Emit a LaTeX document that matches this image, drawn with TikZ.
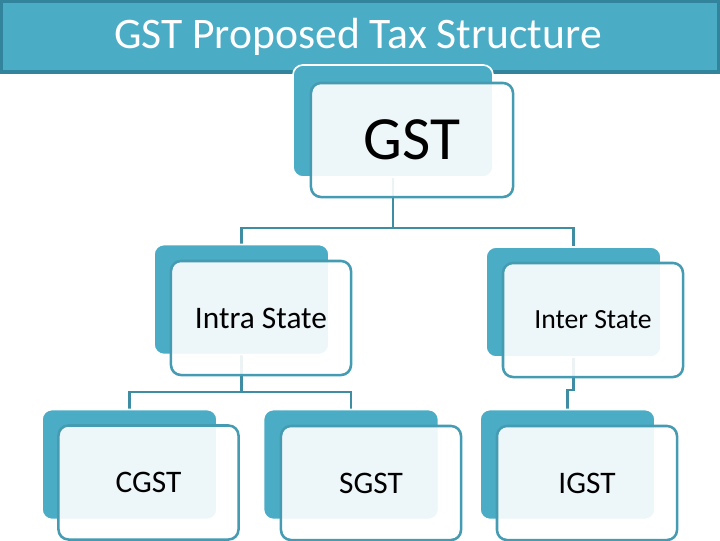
\documentclass[tikz,border=0pt]{standalone}
\usepackage{fontspec}
\setmainfont{Carlito}
\usepackage{xcolor}
\usetikzlibrary{positioning,calc,backgrounds}
\definecolor{gsttint}{HTML}{4BACC6}
\definecolor{gstedge}{HTML}{31849B}
\definecolor{gstline}{HTML}{3F8DA3}

\begin{document}
\begin{tikzpicture}[x=0.025cm,y=-0.025cm,
  backbox/.style={draw=white,line width=1.2pt,fill=gsttint,rounded corners=0.25cm,
    minimum width=4.375cm,minimum height=2.75cm,inner sep=0pt},
  frontbox/.style={draw=gsttint!90!black,line width=1.8pt,fill=white,fill opacity=0.9,text opacity=1,
    rounded corners=0.25cm,minimum width=4.5cm,minimum height=2.85cm,inner sep=0pt,
    font=\fontsize{22.3}{26}\selectfont},
  link/.style={draw=gstline,line width=2pt}]
  \useasboundingbox (0,0) rectangle (720,540);
  \draw[fill=gsttint,draw=gstedge,line width=2.4pt] (1,1) rectangle (719,72);
  \node[text=white,font=\fontsize{31}{36}\selectfont] (title) at (358,37) {GST Proposed Tax Structure};

  \node[backbox,minimum width=5cm,minimum height=2.8cm] (gstb) at (393,121) {};
  \node[frontbox,minimum width=5.05cm,minimum height=2.85cm,font=\fontsize{43.7}{50}\selectfont] (gst) at (412,140) {GST};

  \node[backbox] (intrab) at (241.5,299.5) {};
  \node[frontbox] (intra) at (261,318) {Intra State};
  \node[backbox] (interb) at (573.5,302) {};
  \node[frontbox,font=\fontsize{19.7}{24}\selectfont] (inter) at (593,320) {Inter State};

  \node[backbox] (cgstb) at (129.5,464.5) {};
  \node[frontbox] (cgst) at (148.5,482.5) {CGST};
  \node[backbox] (sgstb) at (351,464.5) {};
  \node[frontbox] (sgst) at (371,483) {SGST};
  \node[backbox] (igstb) at (567.5,464.5) {};
  \node[frontbox] (igst) at (587,483) {IGST};

  \coordinate (bus1) at (0,228);
  \coordinate (bus2) at (0,392);
  \coordinate (bus3) at (0,390);
  \begin{scope}[on background layer]
    \draw[link] (gstb.south) -- (gstb.south |- bus1) -| (intrab.north);
    \draw[link] (gstb.south |- bus1) -| (interb.north);
    \draw[link] (intrab.south) -- (intrab.south |- bus2) -| (cgstb.north);
    \draw[link] (intrab.south |- bus2) -| (sgstb.north);
    \draw[link] (interb.south) -- (interb.south |- bus3) -| (igstb.north);
  \end{scope}
\end{tikzpicture}
\end{document}
